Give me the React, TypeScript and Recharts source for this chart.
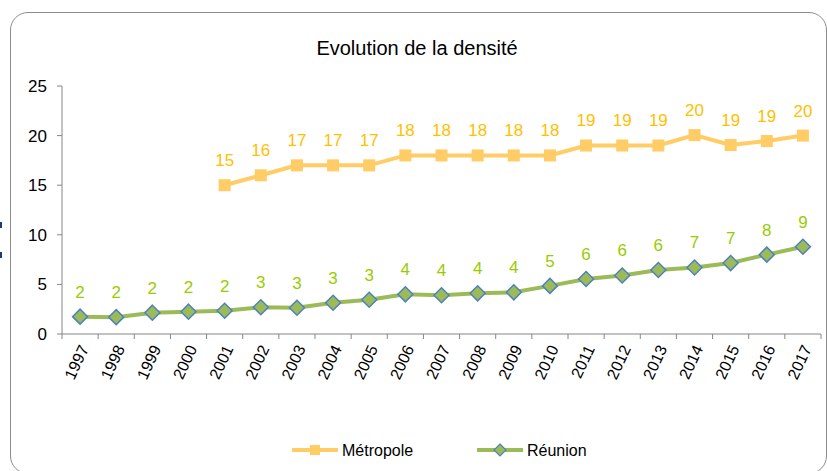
import React from 'react'
import { LineChart, Line, XAxis, YAxis, LabelList } from 'recharts'

const years = [
    '1997', '1998', '1999', '2000', '2001', '2002', '2003', '2004', '2005', '2006', '2007',
    '2008', '2009', '2010', '2011', '2012', '2013', '2014', '2015', '2016', '2017',
]
const metropole = [
    null, null, null, null, 15, 16, 17, 17, 17, 18, 18, 18, 18, 18, 19, 19, 19, 20.05, 19.05, 19.45, 20,
]
const reunion = [
    1.75, 1.7, 2.15, 2.25, 2.35, 2.7, 2.65, 3.15, 3.45, 4.0, 3.9, 4.1, 4.2, 4.85, 5.55, 5.9, 6.45,
    6.7, 7.15, 8.0, 8.8,
]
const yTicks = [0, 5, 10, 15, 20, 25]

const data = years.map((year, i) => ({ year, metropole: metropole[i], reunion: reunion[i] }))

const FONT = '"Liberation Sans", Arial, sans-serif'
const AXIS = '#868686'
const METRO = '#FFCC66'
const METRO_LABEL = '#FFC000'
const REU = '#9BBB59'
const REU_EDGE = '#4F81BD'
const REU_LABEL = '#99CC00'

const WIDTH = 827
const HEIGHT = 471
const PLOT_LEFT = 62
const PLOT_RIGHT = 821
const BAND = (PLOT_RIGHT - PLOT_LEFT) / years.length

const YearTick = ({ x, y, payload, index }: any) => {
    const tx = x + 4
    const ty = y + 12
    return (
        <g>
            <line x1={x - BAND / 2} y1={y} x2={x - BAND / 2} y2={y + 5} stroke={AXIS} />
            {index === years.length - 1 && (
                <line x1={x + BAND / 2} y1={y} x2={x + BAND / 2} y2={y + 5} stroke={AXIS} />
            )}
            <text
                x={tx}
                y={ty}
                transform={`rotate(-65, ${tx}, ${ty})`}
                textAnchor="end"
                dy="0.35em"
                fontSize={16}
                fontFamily={FONT}
                fill="#000"
            >
                {payload.value}
            </text>
        </g>
    )
}

const makeLabel = (color: string) => (props: any) => {
    const { x, y, value } = props
    if (value == null || y == null) return null
    return (
        <text x={x} y={y - 25} dy="0.35em" textAnchor="middle" fontSize={17} fontFamily={FONT} fill={color}>
            {Math.round(value)}
        </text>
    )
}

const SquareDot = ({ cx, cy, index }: any) => {
    if (cx == null || cy == null) return <g key={`s${index}`} />
    return <rect key={`s${index}`} x={cx - 6} y={cy - 6} width={12} height={12} fill={METRO} />
}

const DiamondDot = ({ cx, cy, index }: any) => {
    if (cx == null || cy == null) return <g key={`d${index}`} />
    return (
        <polygon
            key={`d${index}`}
            points={`${cx},${cy - 7.5} ${cx + 7.5},${cy} ${cx},${cy + 7.5} ${cx - 7.5},${cy}`}
            fill={REU}
            stroke={REU_EDGE}
            strokeWidth={1.5}
        />
    )
}

export default function App() {
    return (
        <div
            style={{
                position: 'fixed',
                left: 0,
                top: 0,
                width: WIDTH,
                height: HEIGHT,
                overflow: 'hidden',
                background: '#fff',
                fontFamily: FONT,
            }}
        >
            <div
                style={{
                    position: 'absolute',
                    left: 10,
                    top: 12,
                    width: 815,
                    height: 460,
                    border: '1.5px solid #8c8c8c',
                    borderRadius: 18,
                }}
            />
            <div style={{ position: 'absolute', left: 0, top: 222, width: 2, height: 6, background: '#1f3a6e' }} />
            <div style={{ position: 'absolute', left: 0, top: 252, width: 2, height: 6, background: '#1f3a6e' }} />
            <div
                style={{
                    position: 'absolute',
                    left: 0,
                    width: 834,
                    top: 37,
                    textAlign: 'center',
                    fontSize: 20,
                    color: '#000',
                }}
            >
                Evolution de la densité
            </div>
            <div style={{ position: 'absolute', left: 0, top: 0 }}>
                <LineChart
                    width={WIDTH}
                    height={HEIGHT}
                    data={data}
                    margin={{ top: 86, right: WIDTH - PLOT_RIGHT, bottom: 77, left: 2 }}
                >
                    <YAxis
                        width={60}
                        domain={[0, 25]}
                        ticks={yTicks}
                        interval={0}
                        axisLine={{ stroke: AXIS }}
                        tickLine={{ stroke: AXIS }}
                        tickSize={5}
                        tickMargin={10}
                        tick={{ fill: '#000', fontSize: 17, fontFamily: FONT }}
                    />
                    <XAxis
                        dataKey="year"
                        height={60}
                        interval={0}
                        padding={{ left: BAND / 2, right: BAND / 2 }}
                        axisLine={{ stroke: AXIS }}
                        tickLine={false}
                        tickSize={0}
                        tickMargin={0}
                        tick={<YearTick />}
                    />
                    <Line
                        dataKey="metropole"
                        stroke={METRO}
                        strokeWidth={4}
                        dot={<SquareDot />}
                        activeDot={false}
                        isAnimationActive={false}
                    >
                        <LabelList dataKey="metropole" content={makeLabel(METRO_LABEL)} />
                    </Line>
                    <Line
                        dataKey="reunion"
                        stroke={REU}
                        strokeWidth={4}
                        dot={<DiamondDot />}
                        activeDot={false}
                        isAnimationActive={false}
                    >
                        <LabelList dataKey="reunion" content={makeLabel(REU_LABEL)} />
                    </Line>
                </LineChart>
            </div>
            <svg style={{ position: 'absolute', left: 0, top: 0 }} width={WIDTH} height={HEIGHT}>
                <line x1={292} y1={450} x2={338} y2={450} stroke={METRO} strokeWidth={4} />
                <rect x={310} y={445} width={10} height={10} fill={METRO} />
                <text x={342} y={450} dy="0.35em" fontSize={16} fontFamily={FONT} fill="#000">
                    Métropole
                </text>
                <line x1={477} y1={450} x2={523} y2={450} stroke={REU} strokeWidth={4} />
                <polygon points="500,444 506,450 500,456 494,450" fill={REU} stroke={REU_EDGE} strokeWidth={1.2} />
                <text x={527} y={450} dy="0.35em" fontSize={16} fontFamily={FONT} fill="#000">
                    Réunion
                </text>
            </svg>
        </div>
    )
}
